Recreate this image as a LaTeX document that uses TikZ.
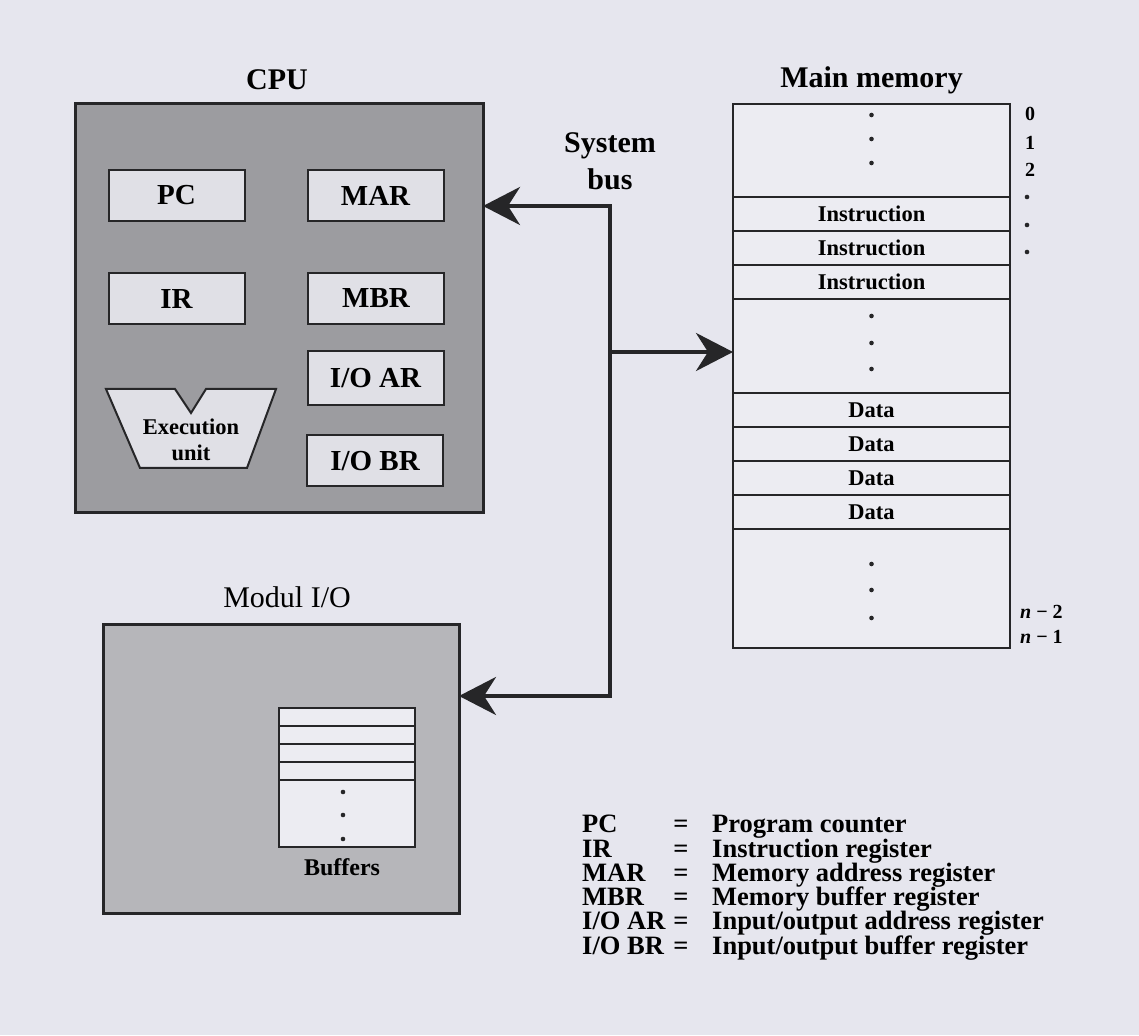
\documentclass[tikz,border=0pt]{standalone}
\usepackage{fontspec}
\setmainfont{Liberation Serif}
\usetikzlibrary{shapes.geometric, arrows.meta, positioning, fit, backgrounds}

\definecolor{paper}{RGB}{230,230,238}
\definecolor{ink}{RGB}{38,38,40}
\definecolor{cpufill}{RGB}{156,156,160}
\definecolor{iofill}{RGB}{182,182,186}
\definecolor{regfill}{RGB}{224,224,230}
\definecolor{memfill}{RGB}{236,236,242}

\newcommand{\regfont}{\fontsize{29}{32}\selectfont\bfseries}
\newcommand{\titlefont}{\fontsize{30}{37}\selectfont\bfseries}
\newcommand{\cellfont}{\fontsize{22.5}{26}\selectfont\bfseries}
\newcommand{\legfont}{\fontsize{26.5}{30}\selectfont\bfseries}
\newcommand{\addrfont}{\fontsize{20}{24}\selectfont\bfseries}
\newcommand{\modfont}{\fontsize{30}{36}\selectfont\mdseries}

\begin{document}
\begin{tikzpicture}[x=1pt, y=1pt, font=\bfseries]
    \tikzstyle{unitbox} = [rectangle, draw=ink, line width=3pt,
        inner sep=0pt, outer sep=0pt]
    \tikzstyle{regbox} = [rectangle, draw=ink, line width=2pt, fill=regfill,
        minimum width=136pt, minimum height=51pt, inner sep=0pt,
        outer sep=0pt, font=\regfont]
    \tikzstyle{cell} = [rectangle, draw=ink, line width=2.2pt, fill=memfill,
        minimum width=277pt, minimum height=34pt, inner sep=0pt,
        outer sep=0pt, font=\cellfont]
    \tikzstyle{bufrow} = [rectangle, draw=ink, line width=1.5pt, fill=memfill,
        minimum width=136pt, minimum height=18pt, inner sep=0pt, outer sep=0pt]
    \tikzstyle{title} = [font=\titlefont, inner sep=0pt]
    \tikzstyle{addr} = [font=\addrfont, inner sep=0pt]
    \tikzstyle{legtext} = [font=\legfont, inner sep=0pt]
    \tikzstyle{busline} = [draw=ink, line width=4pt,
        >={Stealth[length=37pt, width=38pt, inset=12pt]}]

    \fill[paper] (0,0) rectangle (1139,1035);
    \useasboundingbox (0,0) rectangle (1139,1035);

    % CPU
    \node [title] (cputitle) at (277,955) {CPU};
    \node [unitbox, fill=cpufill, minimum width=408pt, minimum height=409pt] (cpu) at (279,726.5) {};
    \node [regbox] (pc) at (176.5,839.5) {PC};
    \node [regbox] (mar) at (375.5,839.5) {MAR};
    \node [regbox] (ir) at (176.5,736) {IR};
    \node [regbox] (mbr) at (376,736.5) {MBR};
    \node [regbox, minimum height=54pt] (ioar) at (375.5,657) {I/O AR};
    \node [regbox] (iobr) at (375,574) {I/O BR};
    \draw [ink, line width=2pt, fill=regfill] (106,646) -- (175,646) -- (191,622)
        -- (206,646) -- (276,646) -- (247,567) -- (140,567) -- cycle;
    \node [font=\cellfont, align=center, inner sep=0pt] (exec) at (191,595) {Execution\\unit};

    % main memory
    \node [title] (memtitle) at (871.5,955) {Main memory};
    \node [cell, minimum height=93pt] (msec1) at (871.5,884.5) {};
    \node [cell, below=0pt of msec1] (ins1) {Instruction};
    \node [cell, below=0pt of ins1] (ins2) {Instruction};
    \node [cell, below=0pt of ins2] (ins3) {Instruction};
    \node [cell, minimum height=94pt, below=0pt of ins3] (msec2) {};
    \node [cell, below=0pt of msec2] (dat1) {Data};
    \node [cell, below=0pt of dat1] (dat2) {Data};
    \node [cell, below=0pt of dat2] (dat3) {Data};
    \node [cell, below=0pt of dat3] (dat4) {Data};
    \node [cell, minimum height=119pt, below=0pt of dat4] (msec3) {};
    \foreach \d in {11,35,59} \fill[ink] ([yshift=-\d pt]msec1.north) circle (2.3pt);
    \foreach \d in {17,44,70} \fill[ink] ([yshift=-\d pt]msec2.north) circle (2.3pt);
    \foreach \d in {35,61,89} \fill[ink] ([yshift=-\d pt]msec3.north) circle (2.3pt);

    \node [addr] (adr0) at (1030,921) {0};
    \node [addr] (adr1) at (1030,892) {1};
    \node [addr] (adr2) at (1030,865) {2};
    \foreach \y in {838,810,783} \fill[ink] (1027,\y) circle (2.3pt);
    \node [addr, anchor=west] (adrn2) at (1020,423) {\textit{n} − 2};
    \node [addr, anchor=west] (adrn1) at (1020,398) {\textit{n} − 1};

    % I/O module
    \node [font=\modfont, inner sep=0pt] (iotitle) at (287,438) {Modul I/O};
    \node [unitbox, fill=iofill, minimum width=356pt, minimum height=289pt] (io) at (281,265.5) {};
    \node [bufrow] (buf1) at (347,318) {};
    \node [bufrow, below=0pt of buf1] (buf2) {};
    \node [bufrow, below=0pt of buf2] (buf3) {};
    \node [bufrow, below=0pt of buf3] (buf4) {};
    \node [bufrow, minimum height=67pt, below=0pt of buf4] (buf5) {};
    \foreach \d in {12,35,59} \fill[ink] ([xshift=-4pt, yshift=-\d pt]buf5.north) circle (2.3pt);
    \node [font=\cellfont, font=\fontsize{24}{28}\selectfont\bfseries, inner sep=0pt] (buflabel) at (342,168) {Buffers};

    % system bus
    \node [title, align=center] (bustitle) at (610,874) {System\\bus};
    \coordinate (bustop) at (610,829);
    \coordinate (busmid) at (610,683);
    \coordinate (busbot) at (610,339);
    \path [busline, <->] (bustop -| cpu.east) -- (bustop) -- (busbot) -- (busbot -| io.east);
    \path [busline, ->] (busmid) -- (busmid -| msec2.west);

    % legend
    \foreach \abbr/\desc [count=\i from 0] in {PC/Program counter,
        IR/Instruction register, MAR/Memory address register,
        MBR/Memory buffer register, I\slash O AR/Input\slash output address register,
        I\slash O BR/Input\slash output buffer register} {
        \node [legtext, anchor=base west] (lgk\i) at (582,202-24.2*\i) {\abbr};
        \node [legtext, anchor=base] (lgq\i) at (681,202-24.2*\i) {=};
        \node [legtext, anchor=base west] (lgd\i) at (712,202-24.2*\i) {\desc};
    }
\end{tikzpicture}
\end{document}
